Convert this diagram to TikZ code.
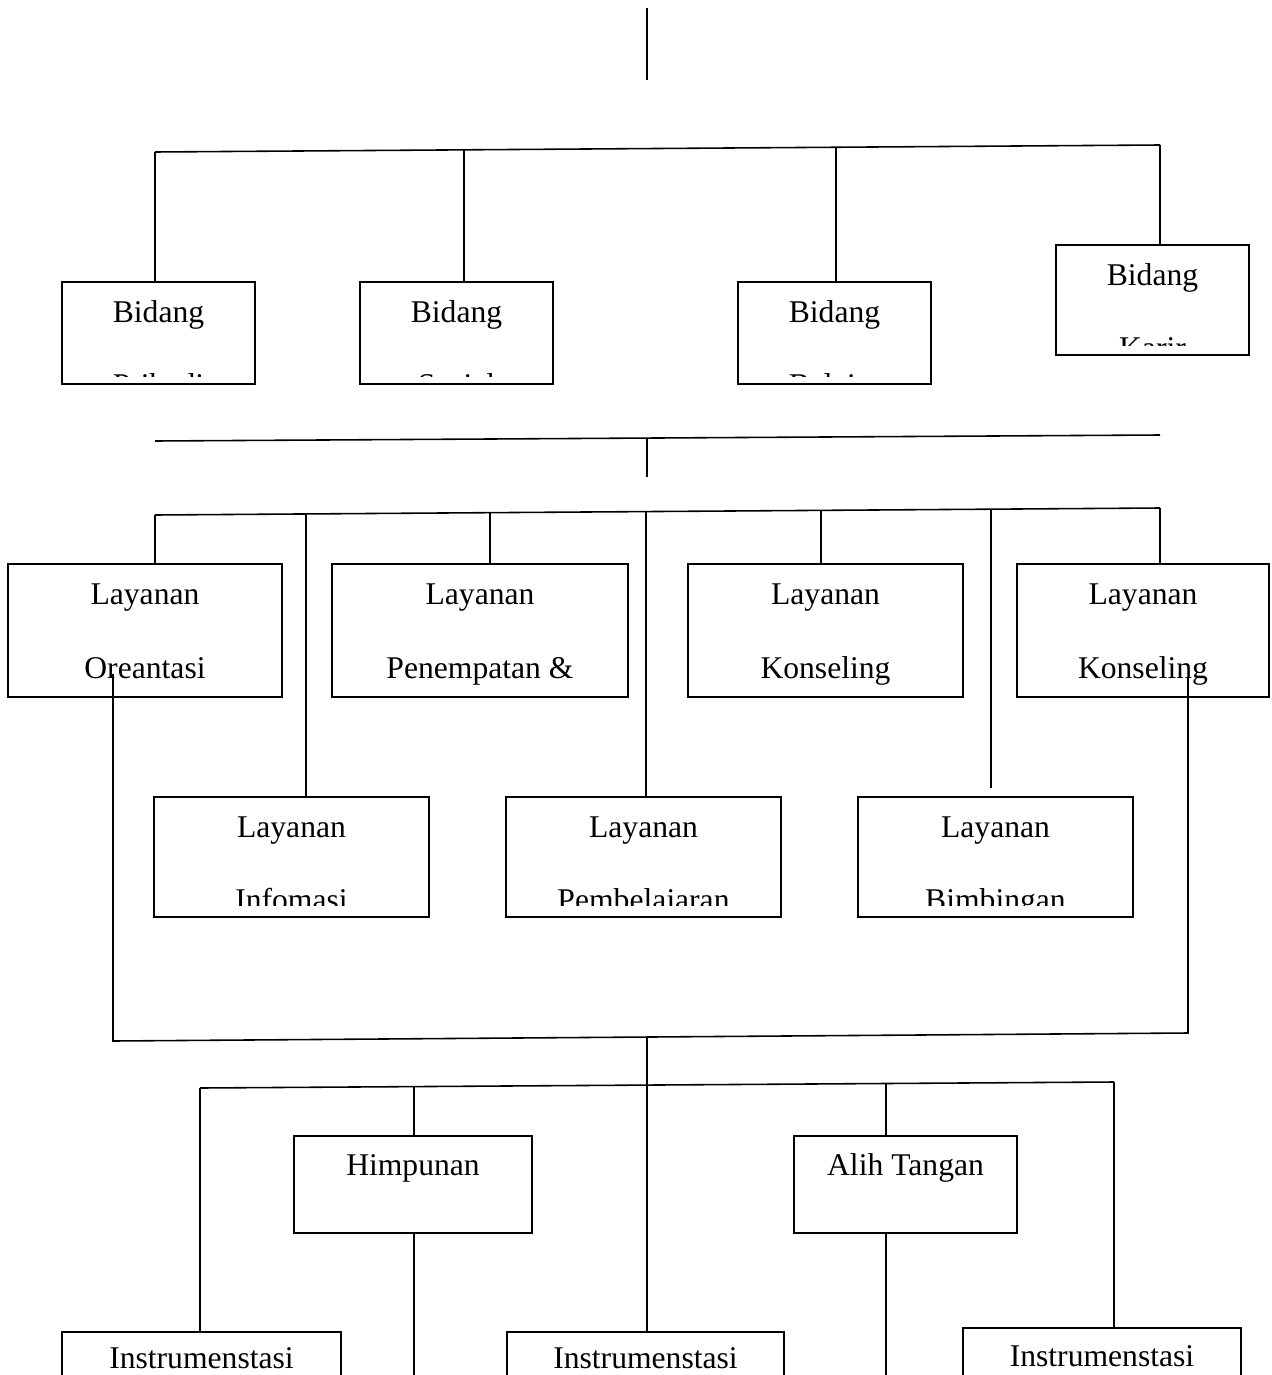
\documentclass[tikz,border=0pt]{standalone}
\usepackage{fontspec}
\setmainfont{Liberation Serif}
\tikzset{kotak/.style 2 args={draw,line width=1.1pt,minimum width=#1*0.02cm,minimum height=#2*0.02cm,inner sep=0pt},
  teks/.style={anchor=base,inner sep=0pt,font=\fontsize{18}{20}\selectfont}}
\begin{document}
\begin{tikzpicture}[x=0.02cm,y=-0.02cm,line width=0.9pt]
      \path[use as bounding box,clip] (0,0) rectangle (1271,1375);

      \node[kotak={193}{102}] (pribadi) at (158.5,333) {};
      \node[kotak={193}{102}] (sosial) at (456.5,333) {};
      \node[kotak={193}{102}] (belajar) at (834.5,333) {};
      \node[kotak={193}{110}] (karir) at (1152.5,300) {};
      \node[teks] (tpribadi) at (158.5,322) {Bidang};
      \node[teks] (tsosial) at (456.5,322) {Bidang};
      \node[teks] (tbelajar) at (834.5,322) {Bidang};
      \node[teks] (tkarir) at (1152.5,285) {Bidang};
      \begin{scope}
        \clip (62,282) rectangle (255,376) (360,282) rectangle (553,376)
              (738,282) rectangle (931,376) (1056,245) rectangle (1249,345);
        \node[teks] (tpribadib) at (158.5,395) {Pribadi};
        \node[teks] (tsosialb) at (456.5,395) {Sosial};
        \node[teks] (tbelajarb) at (834.5,395) {Belajar};
        \node[teks] (tkarirb) at (1152.5,358) {Karir};
      \end{scope}

      \node[kotak={274}{133}] (oreantasi) at (145,630.5) {};
      \node[kotak={296}{133}] (penempatan) at (480,630.5) {};
      \node[kotak={275}{133}] (konseling) at (825.5,630.5) {};
      \node[kotak={252}{133}] (konselingb) at (1143,630.5) {};
      \node[teks] (toreantasi) at (145,604) {Layanan};
      \node[teks] (tpenempatan) at (480,604) {Layanan};
      \node[teks] (tkonseling) at (825.5,604) {Layanan};
      \node[teks] (tkonselingb) at (1143,604) {Layanan};
      \node[teks] (toreantasib) at (145,678) {Oreantasi};
      \node[teks] (tpenempatanb) at (480,678) {Penempatan \&};
      \node[teks] (tkonselingc) at (825.5,678) {Konseling};
      \node[teks] (tkonselingd) at (1143,678) {Konseling};

      \node[kotak={275}{120}] (infomasi) at (291.5,857) {};
      \node[kotak={275}{120}] (pembelajaran) at (643.5,857) {};
      \node[kotak={275}{120}] (bimbingan) at (995.5,857) {};
      \node[teks] (tinfomasi) at (291.5,837) {Layanan};
      \node[teks] (tpembelajaran) at (643.5,837) {Layanan};
      \node[teks] (tbimbingan) at (995.5,837) {Layanan};
      \begin{scope}
        \clip (154,797) rectangle (429,905) (506,797) rectangle (781,905)
              (858,797) rectangle (1133,905);
        \node[teks] (tinfomasib) at (291.5,910) {Infomasi};
        \node[teks] (tpembelajaranb) at (643.5,910) {Pembelajaran};
        \node[teks] (tbimbinganb) at (995.5,910) {Bimbingan};
      \end{scope}

      \node[kotak={238}{97}] (himpunan) at (413,1184.5) {};
      \node[kotak={223}{97}] (alihtangan) at (905.5,1184.5) {};
      \node[teks] (thimpunan) at (413,1175) {Himpunan};
      \node[teks] (talihtangan) at (905.5,1175) {Alih Tangan};

      \node[kotak={279}{100}] (instrumen) at (201.5,1382) {};
      \node[kotak={277}{100}] (instrumenb) at (645.5,1382) {};
      \node[kotak={278}{100}] (instrumenc) at (1102,1378) {};
      \node[teks] (tinstrumen) at (201.5,1368) {Instrumenstasi};
      \node[teks] (tinstrumenb) at (645.5,1368) {Instrumenstasi};
      \node[teks] (tinstrumenc) at (1102,1366) {Instrumenstasi};

      \coordinate (puncak) at (647,8);
      \coordinate (puncakb) at (647,80);
      \draw (puncak) -- (puncakb);

      \coordinate (ba) at (155,152);
      \coordinate (bb) at (464,150);
      \coordinate (bc) at (836,147);
      \coordinate (bd) at (1160,145);
      \draw (ba) -- (bd);
      \draw (ba) -- (ba |- pribadi.north);
      \draw (bb) -- (bb |- sosial.north);
      \draw (bc) -- (bc |- belajar.north);
      \draw (bd) -- (bd |- karir.north);

      \coordinate (ca) at (155,441);
      \coordinate (cb) at (1160,435);
      \coordinate (cc) at (647,438);
      \coordinate (cd) at (647,477);
      \draw (ca) -- (cb);
      \draw (cc) -- (cd);

      \coordinate (da) at (155,515);
      \coordinate (db) at (306,514);
      \coordinate (dc) at (490,513);
      \coordinate (dd) at (646,512);
      \coordinate (de) at (821,510);
      \coordinate (df) at (991,509);
      \coordinate (dfb) at (991,788);
      \coordinate (dg) at (1160,508);
      \draw (da) -- (dg);
      \draw (da) -- (da |- oreantasi.north);
      \draw (db) -- (db |- infomasi.north);
      \draw (dc) -- (dc |- penempatan.north);
      \draw (dd) -- (dd |- pembelajaran.north);
      \draw (de) -- (de |- konseling.north);
      \draw (df) -- (dfb);
      \draw (dg) -- (dg |- konselingb.north);

      \coordinate (ea) at (113,674);
      \coordinate (eb) at (113,1041);
      \coordinate (ec) at (1188,1033);
      \coordinate (ed) at (1188,677);
      \coordinate (ee) at (647,1037);
      \draw (ea) -- (eb) -- (ec) -- (ed);
      \draw (ee) -- (ee |- instrumenb.north);

      \coordinate (fa) at (200,1088);
      \coordinate (fb) at (414,1087);
      \coordinate (fc) at (886,1084);
      \coordinate (fd) at (1114,1082);
      \draw (fa) -- (fd);
      \draw (fa) -- (fa |- instrumen.north);
      \draw (fb) -- (fb |- himpunan.north);
      \draw (fc) -- (fc |- alihtangan.north);
      \draw (fd) -- (fd |- instrumenc.north);

      \coordinate (ga) at (414,1375);
      \coordinate (gb) at (886,1375);
      \draw (ga |- himpunan.south) -- (ga);
      \draw (gb |- alihtangan.south) -- (gb);
\end{tikzpicture}
\end{document}
